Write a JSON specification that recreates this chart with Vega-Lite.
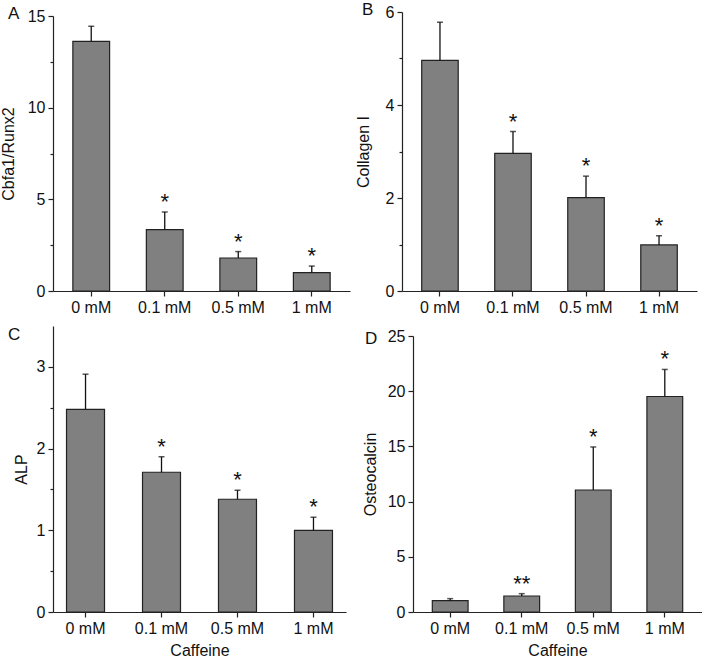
{
  "$schema": "https://vega.github.io/schema/vega-lite/v6.json",
  "padding": {"top": 1, "left": 0, "right": 0, "bottom": 0},
  "background": "white",
  "config": {
    "font": "Liberation Sans",
    "view": {"stroke": null},
    "axis": {"grid": false, "domainColor": "#222", "tickColor": "#222", "labelColor": "#111", "titleColor": "#111", "labelFont": "Liberation Sans", "titleFont": "Liberation Sans", "labelFontSize": 16, "titleFontSize": 16, "titleFontWeight": "normal", "domainWidth": 1.2, "tickWidth": 1.2, "labelPadding": 3},
    "title": {"fontSize": 17, "fontWeight": "normal", "anchor": "start", "frame": "group", "color": "#111", "font": "Liberation Sans"}
  },
  "data": {"values": [
    {"panel": "A", "dose": "0 mM", "mean": 13.62, "upper": 14.44, "sig": ""},
    {"panel": "A", "dose": "0.1 mM", "mean": 3.35, "upper": 4.31, "sig": "*"},
    {"panel": "A", "dose": "0.5 mM", "mean": 1.8, "upper": 2.15, "sig": "*"},
    {"panel": "A", "dose": "1 mM", "mean": 1.0, "upper": 1.36, "sig": "*"},
    {"panel": "B", "dose": "0 mM", "mean": 4.96, "upper": 5.78, "sig": ""},
    {"panel": "B", "dose": "0.1 mM", "mean": 2.96, "upper": 3.43, "sig": "*"},
    {"panel": "B", "dose": "0.5 mM", "mean": 2.01, "upper": 2.47, "sig": "*"},
    {"panel": "B", "dose": "1 mM", "mean": 0.99, "upper": 1.19, "sig": "*"},
    {"panel": "C", "dose": "0 mM", "mean": 2.48, "upper": 2.91, "sig": ""},
    {"panel": "C", "dose": "0.1 mM", "mean": 1.71, "upper": 1.9, "sig": "*"},
    {"panel": "C", "dose": "0.5 mM", "mean": 1.38, "upper": 1.49, "sig": "*"},
    {"panel": "C", "dose": "1 mM", "mean": 1.0, "upper": 1.16, "sig": "*"},
    {"panel": "D", "dose": "0 mM", "mean": 1.03, "upper": 1.21, "sig": ""},
    {"panel": "D", "dose": "0.1 mM", "mean": 1.45, "upper": 1.66, "sig": "**"},
    {"panel": "D", "dose": "0.5 mM", "mean": 11.05, "upper": 14.95, "sig": "*"},
    {"panel": "D", "dose": "1 mM", "mean": 19.52, "upper": 21.97, "sig": "*"}
  ]},
  "columns": 1,
  "align": "none",
  "spacing": 11,
  "concat": [
    {
      "spacing": 5,
      "hconcat": [
        {
          "title": {"text": "A", "dx": -45, "offset": -18},
          "width": 297, "height": 279,
          "transform": [{"filter": "datum.panel === 'A'"}],
          "encoding": {"x": {"field": "dose", "type": "nominal", "sort": ["0 mM", "0.1 mM", "0.5 mM", "1 mM"], "scale": {"paddingInner": 0.5, "paddingOuter": 0.27}, "axis": {"title": null, "labelAngle": 0, "tickSize": 5}}},
          "layer": [
            {"mark": {"type": "bar", "fill": "#808080", "stroke": "#222", "strokeWidth": 1.2},
             "encoding": {"y": {"field": "mean", "type": "quantitative", "title": "Cbfa1/Runx2", "scale": {"domain": [0, 15], "nice": false, "range": [279, 4]}, "axis": {"values": [0, 2.5, 5, 7.5, 10, 12.5, 15], "labelExpr": "datum.value % 5 === 0 ? format(datum.value, 'd') : ''", "tickSize": {"condition": {"test": "datum.value % 5 === 0", "value": 5}, "value": 3}, "titlePadding": 11}}}},
            {"mark": {"type": "rule", "stroke": "#111", "strokeWidth": 1.3},
             "encoding": {"y": {"field": "mean", "type": "quantitative", "title": "Cbfa1/Runx2"}, "y2": {"field": "upper"}}},
            {"mark": {"type": "tick", "orient": "horizontal", "size": 6, "thickness": 1.5, "color": "#111"},
             "encoding": {"y": {"field": "upper", "type": "quantitative", "title": "Cbfa1/Runx2"}}},
            {"mark": {"type": "text", "baseline": "alphabetic", "dy": -3, "fontSize": 22, "color": "#111"},
             "encoding": {"y": {"field": "upper", "type": "quantitative", "title": "Cbfa1/Runx2"}, "text": {"field": "sig"}}}
          ]
        },
        {
          "title": {"text": "B", "dx": -40, "offset": -18},
          "width": 295, "height": 279,
          "transform": [{"filter": "datum.panel === 'B'"}],
          "encoding": {"x": {"field": "dose", "type": "nominal", "sort": ["0 mM", "0.1 mM", "0.5 mM", "1 mM"], "scale": {"paddingInner": 0.5, "paddingOuter": 0.27}, "axis": {"title": null, "labelAngle": 0, "tickSize": 5}}},
          "layer": [
            {"mark": {"type": "bar", "fill": "#808080", "stroke": "#222", "strokeWidth": 1.2},
             "encoding": {"y": {"field": "mean", "type": "quantitative", "title": "Collagen I", "scale": {"domain": [0, 6], "nice": false}, "axis": {"values": [0, 1, 2, 3, 4, 5, 6], "labelExpr": "datum.value % 2 === 0 ? format(datum.value, 'd') : ''", "tickSize": {"condition": {"test": "datum.value % 2 === 0", "value": 5}, "value": 3}, "titlePadding": 14}}}},
            {"mark": {"type": "rule", "stroke": "#111", "strokeWidth": 1.3},
             "encoding": {"y": {"field": "mean", "type": "quantitative", "title": "Collagen I"}, "y2": {"field": "upper"}}},
            {"mark": {"type": "tick", "orient": "horizontal", "size": 6, "thickness": 1.5, "color": "#111"},
             "encoding": {"y": {"field": "upper", "type": "quantitative", "title": "Collagen I"}}},
            {"mark": {"type": "text", "baseline": "alphabetic", "dy": -3, "fontSize": 22, "color": "#111"},
             "encoding": {"y": {"field": "upper", "type": "quantitative", "title": "Collagen I"}, "text": {"field": "sig"}}}
          ]
        }
      ]
    },
    {
      "spacing": 16,
      "hconcat": [
        {
          "title": {"text": "C", "dx": -45, "offset": -18},
          "width": 293, "height": 286,
          "transform": [{"filter": "datum.panel === 'C'"}],
          "encoding": {"x": {"field": "dose", "type": "nominal", "sort": ["0 mM", "0.1 mM", "0.5 mM", "1 mM"], "scale": {"paddingInner": 0.5, "paddingOuter": 0.178}, "axis": {"title": "Caffeine", "labelAngle": 0, "tickSize": 5, "titlePadding": 6}}},
          "layer": [
            {"mark": {"type": "bar", "fill": "#808080", "stroke": "#222", "strokeWidth": 1.2},
             "encoding": {"y": {"field": "mean", "type": "quantitative", "title": "ALP", "scale": {"domain": [0, 3.5], "nice": false}, "axis": {"values": [0, 0.5, 1, 1.5, 2, 2.5, 3], "labelExpr": "datum.value % 1 === 0 ? format(datum.value, 'd') : ''", "tickSize": {"condition": {"test": "datum.value % 1 === 0", "value": 5}, "value": 3}, "titlePadding": 7}}}},
            {"mark": {"type": "rule", "stroke": "#111", "strokeWidth": 1.3},
             "encoding": {"y": {"field": "mean", "type": "quantitative", "title": "ALP"}, "y2": {"field": "upper"}}},
            {"mark": {"type": "tick", "orient": "horizontal", "size": 6, "thickness": 1.5, "color": "#111"},
             "encoding": {"y": {"field": "upper", "type": "quantitative", "title": "ALP"}}},
            {"mark": {"type": "text", "baseline": "alphabetic", "dy": -3, "fontSize": 22, "color": "#111"},
             "encoding": {"y": {"field": "upper", "type": "quantitative", "title": "ALP"}, "text": {"field": "sig"}}}
          ]
        },
        {
          "title": {"text": "D", "dx": -48, "offset": -22},
          "width": 289, "height": 286,
          "transform": [{"filter": "datum.panel === 'D'"}],
          "encoding": {"x": {"field": "dose", "type": "nominal", "sort": ["0 mM", "0.1 mM", "0.5 mM", "1 mM"], "scale": {"paddingInner": 0.5, "paddingOuter": 0.27}, "axis": {"title": "Caffeine", "labelAngle": 0, "tickSize": 5, "titlePadding": 6}}},
          "layer": [
            {"mark": {"type": "bar", "fill": "#808080", "stroke": "#222", "strokeWidth": 1.2},
             "encoding": {"y": {"field": "mean", "type": "quantitative", "title": "Osteocalcin", "scale": {"domain": [0, 25], "nice": false, "range": [286, 10]}, "axis": {"values": [0, 2.5, 5, 7.5, 10, 12.5, 15, 17.5, 20, 22.5, 25], "labelExpr": "datum.value % 5 === 0 ? format(datum.value, 'd') : ''", "tickSize": {"condition": {"test": "datum.value % 5 === 0", "value": 5}, "value": 3}, "titlePadding": 9}}}},
            {"mark": {"type": "rule", "stroke": "#111", "strokeWidth": 1.3},
             "encoding": {"y": {"field": "mean", "type": "quantitative", "title": "Osteocalcin"}, "y2": {"field": "upper"}}},
            {"mark": {"type": "tick", "orient": "horizontal", "size": 6, "thickness": 1.5, "color": "#111"},
             "encoding": {"y": {"field": "upper", "type": "quantitative", "title": "Osteocalcin"}}},
            {"mark": {"type": "text", "baseline": "alphabetic", "dy": -3, "fontSize": 22, "color": "#111"},
             "encoding": {"y": {"field": "upper", "type": "quantitative", "title": "Osteocalcin"}, "text": {"field": "sig"}}}
          ]
        }
      ]
    }
  ]
}
